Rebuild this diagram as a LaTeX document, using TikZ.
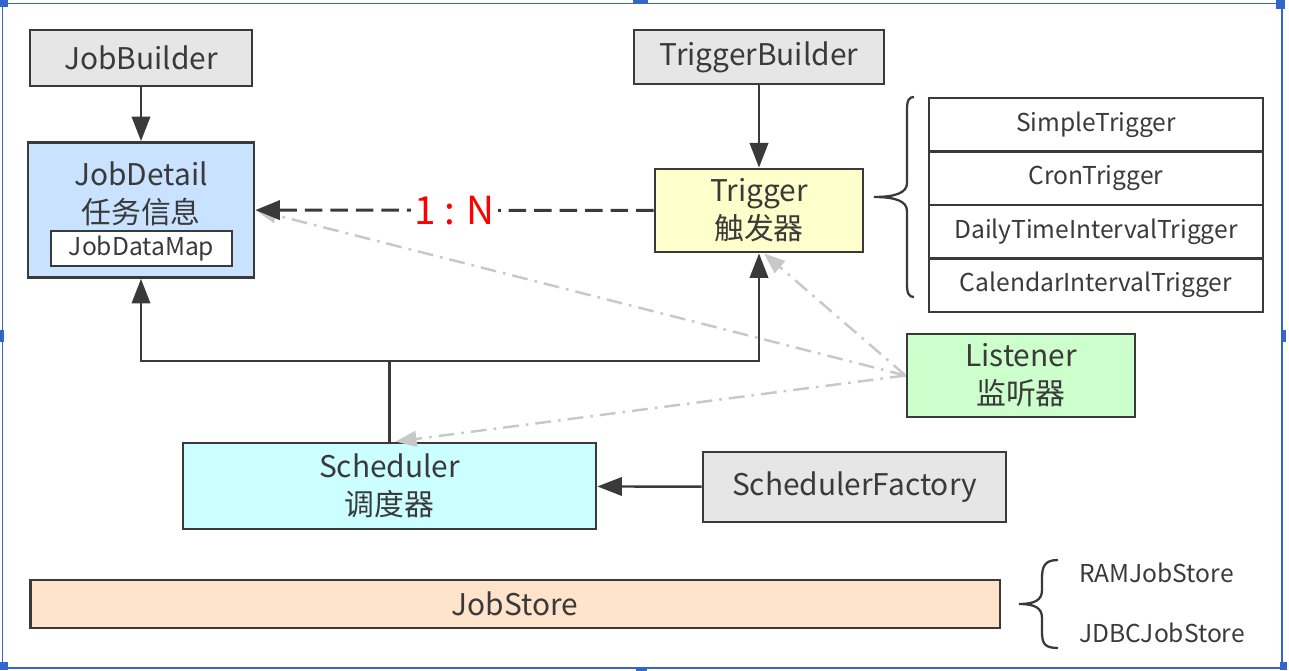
\documentclass[tikz,border=0pt]{standalone}
\usepackage{fontspec}
\setmainfont{Noto Sans CJK SC}
\usetikzlibrary{arrows.meta,calc}
\definecolor{qzline}{HTML}{3A3A3A}
\definecolor{qzgray}{HTML}{E6E6E6}
\definecolor{qzblue}{HTML}{C9E2FF}
\definecolor{qzyellow}{HTML}{FFFFCC}
\definecolor{qzgreen}{HTML}{CCFFCC}
\definecolor{qzcyan}{HTML}{CCFFFF}
\definecolor{qzpeach}{HTML}{FFE4CC}
\definecolor{qzhint}{HTML}{C8C8C8}
\definecolor{qzframe}{HTML}{3366CC}
\tikzset{
 qz box/.style={draw=qzline,line width=1.6pt,inner sep=0pt},
 qz label/.style={font=\fontsize{17pt}{21.5pt}\selectfont,text=qzline,align=center},
 qz small/.style={font=\fontsize{14pt}{17pt}\selectfont,text=qzline},
 qz flow/.style={draw=qzline,line width=1.4pt,-{Triangle[length=14pt,width=10.5pt]}},
 qz link/.style={draw=qzline,line width=1.4pt},
 qz dep/.style={draw=qzline,line width=1.7pt,dash pattern=on 10pt off 4.5pt,
                -{Triangle[length=14pt,width=11pt]}},
 qz ratio/.style={fill=white,inner sep=2pt,text=red,font=\fontsize{22pt}{24pt}\selectfont},
 qz hint/.style={draw=qzhint,line width=1.4pt,dash pattern=on 9pt off 4pt on 1.5pt off 4pt,
                 -{Triangle[length=12pt,width=9pt,fill=qzhint]}},
 qz brace/.style={draw=qzline,line width=1.3pt}
}
\begin{document}
\begin{tikzpicture}[x=0.02cm,y=-0.02cm]
 \useasboundingbox (0,0) rectangle (1289,671);
 % frame with handles
 \draw[qzframe,line width=0.9pt] (2.5,3.5) rectangle (1282,668);
 \foreach \x/\y/\w/\h in {0/0/8/7,633/0/15/4,1276/0/9/9,0/330/4/12,1281/330/5/12,
                           636/667/11/4,0/662/8/8,1280/662/7/8}{
   \fill[qzframe] (\x,\y) rectangle ++(\w,\h);
 }
 % builders
 \node[qz box,fill=qzgray,minimum width=4.44cm,minimum height=1.12cm,qz label]
   (jobbuilder) at (141,58) {JobBuilder};
 \node[qz box,fill=qzgray,minimum width=5cm,minimum height=1.08cm,qz label]
   (triggerbuilder) at (759,57) {TriggerBuilder};
 % job detail
 \node[qz box,fill=qzblue,minimum width=4.52cm,minimum height=2.7cm]
   (jobdetail) at (141,210) {};
 \node[qz label] (jobdetail text) at (141,194) {JobDetail\\任务信息};
 \node[qz box,fill=white,line width=1.4pt,minimum width=3.62cm,minimum height=0.7cm,qz small]
   (jobdatamap) at (141.5,248.5) {JobDataMap};
 % trigger and its kinds
 \node[qz box,fill=qzyellow,minimum width=4.16cm,minimum height=1.66cm,qz label]
   (trigger) at (759,210.5) {Trigger\\触发器};
 \foreach \i/\kind in {1/SimpleTrigger,2/CronTrigger,3/DailyTimeIntervalTrigger,
                       4/CalendarIntervalTrigger}{
   \node[qz box,fill=white,minimum width=6.68cm,minimum height=1.07cm,qz small]
     (kind\i) at (1096,{71.25+53.5*\i}) {\kind};
 }
 \draw[qz brace] (914,97) .. controls (909,97) and (907,100) .. (907,110)
   -- (907,183) .. controls (907,193) and (895,197) .. (874,197)
   .. controls (895,197) and (907,201) .. (907,211)
   -- (907,284) .. controls (907,294) and (909,297) .. (914,297);
 % listener, scheduler, factory
 \node[qz box,fill=qzgreen,minimum width=4.56cm,minimum height=1.66cm,qz label]
   (listener) at (1021,375.5) {Listener\\监听器};
 \node[qz box,fill=qzcyan,minimum width=8.26cm,minimum height=1.72cm,qz label]
   (scheduler) at (389.5,486) {Scheduler\\调度器};
 \node[qz box,fill=qzgray,minimum width=6.06cm,minimum height=1.4cm,qz label]
   (schedulerfactory) at (854.5,487) {SchedulerFactory};
 % job store
 \node[qz box,fill=qzpeach,minimum width=19.4cm,minimum height=0.96cm,qz label]
   (jobstore) at (515,604) {JobStore};
 \draw[qz brace] (1058,560) .. controls (1045,560) and (1042,566) .. (1042,578)
   -- (1042,590) .. controls (1042,600) and (1035,604) .. (1019,604)
   .. controls (1035,604) and (1042,608) .. (1042,618)
   -- (1042,632) .. controls (1042,644) and (1045,648) .. (1058,648);
 \node[qz small,anchor=base west] (ramjobstore) at (1073,583) {RAMJobStore};
 \node[qz small,anchor=base west] (jdbcjobstore) at (1073,643) {JDBCJobStore};
 % connectors
 \draw[qz hint] (listener.west) -- (jobdetail.east);
 \draw[qz hint] (listener.west) -- ($(trigger.south)+(5,0)$);
 \draw[qz hint] (listener.west) -- ($(scheduler.north)+(6,0)$);
 \draw[qz flow] (jobbuilder) -- (jobdetail);
 \draw[qz flow] (triggerbuilder) -- (trigger);
 \draw[qz dep] (trigger) -- node[qz ratio] (ratio) {1 : N} (jobdetail);
 \coordinate (split) at (389.5,361);
 \draw[qz link] (scheduler) -- (split);
 \draw[qz flow] (split) -| (jobdetail);
 \draw[qz flow] (split) -| (trigger);
 \draw[qz flow] (schedulerfactory) -- (scheduler);
\end{tikzpicture}
\end{document}
